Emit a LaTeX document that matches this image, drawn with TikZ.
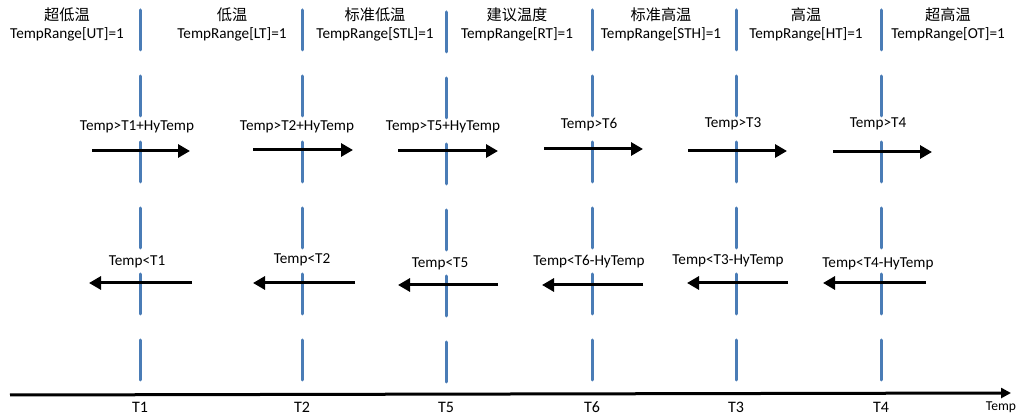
\documentclass[tikz,border=0pt]{standalone}
\usepackage{fontspec}
\setmainfont{Carlito}
\newfontfamily\cjk{Noto Sans CJK SC}
\usetikzlibrary{arrows.meta}
\definecolor{threshblue}{RGB}{74,124,182}
\tikzset{
  thresh/.style={threshblue, line width=1.5pt, line cap=round, dash pattern=on 20pt off 13pt},
  flow/.style={-{Triangle[length=6pt,width=6.5pt]}, line width=1.5pt},
  axisline/.style={-{Triangle[length=5pt,width=5pt]}, line width=1.5pt},
  lbl/.style={inner sep=0pt, font=\fontsize{7.6}{9}\selectfont},
  tick/.style={inner sep=0pt, font=\fontsize{8}{10}\selectfont},
  region/.style={lbl, align=center},
}

\begin{document}
\begin{tikzpicture}[x=0.5pt, y=-0.5pt]
\useasboundingbox (0,0) rectangle (1022,416);

%threshold lines
\coordinate (T1top) at (140,10);  \coordinate (T1bot) at (140,385);
\coordinate (T2top) at (302,10);  \coordinate (T2bot) at (302,385);
\coordinate (T5top) at (446,12);  \coordinate (T5bot) at (446,388);
\coordinate (T6top) at (592,10);  \coordinate (T6bot) at (592,385);
\coordinate (T3top) at (736,10);  \coordinate (T3bot) at (736,385);
\coordinate (T4top) at (881,10);  \coordinate (T4bot) at (881,385);
\draw[thresh] (T1top) -- (T1bot);
\draw[thresh] (T2top) -- (T2bot);
\draw[thresh] (T5top) -- (T5bot);
\draw[thresh] (T6top) -- (T6bot);
\draw[thresh] (T3top) -- (T3bot);
\draw[thresh] (T4top) -- (T4bot);

%ranges
\node[region] (rangeUT)  at (67,24)  {{\cjk 超低温}\\TempRange[UT]=1};
\node[region] (rangeLT)  at (232,24) {{\cjk 低温}\\TempRange[LT]=1};
\node[region] (rangeSTL) at (375,24) {{\cjk 标准低温}\\TempRange[STL]=1};
\node[region] (rangeRT)  at (517,24) {{\cjk 建议温度}\\TempRange[RT]=1};
\node[region] (rangeSTH) at (661,24) {{\cjk 标准高温}\\TempRange[STH]=1};
\node[region] (rangeHT)  at (806,24) {{\cjk 高温}\\TempRange[HT]=1};
\node[region] (rangeOT)  at (948,24) {{\cjk 超高温}\\TempRange[OT]=1};

%rising
\node[lbl] (upT1) at (137,127) {Temp>T1+HyTemp};
\node[lbl] (upT2) at (297,127) {Temp>T2+HyTemp};
\node[lbl] (upT5) at (443,127) {Temp>T5+HyTemp};
\node[lbl] (upT6) at (589,125) {Temp>T6};
\node[lbl] (upT3) at (733,124) {Temp>T3};
\node[lbl] (upT4) at (878,124) {Temp>T4};
\coordinate (upT1a) at (92,151);  \coordinate (upT1b) at (190,151);
\coordinate (upT2a) at (253,150); \coordinate (upT2b) at (353,150);
\coordinate (upT5a) at (398,151); \coordinate (upT5b) at (498,151);
\coordinate (upT6a) at (544,149); \coordinate (upT6b) at (643,149);
\coordinate (upT3a) at (688,151); \coordinate (upT3b) at (787,151);
\coordinate (upT4a) at (833,152); \coordinate (upT4b) at (932,152);
\draw[flow] (upT1a) -- (upT1b);
\draw[flow] (upT2a) -- (upT2b);
\draw[flow] (upT5a) -- (upT5b);
\draw[flow] (upT6a) -- (upT6b);
\draw[flow] (upT3a) -- (upT3b);
\draw[flow] (upT4a) -- (upT4b);

%falling
\node[lbl] (dnT1) at (137,262) {Temp<T1};
\node[lbl] (dnT2) at (302,260) {Temp<T2};
\node[lbl] (dnT5) at (440,264) {Temp<T5};
\node[lbl] (dnT6) at (589,262) {Temp<T6-HyTemp};
\node[lbl] (dnT3) at (728,261) {Temp<T3-HyTemp};
\node[lbl] (dnT4) at (878,264) {Temp<T4-HyTemp};
\coordinate (dnT1a) at (192,283); \coordinate (dnT1b) at (89,283);
\coordinate (dnT2a) at (355,283); \coordinate (dnT2b) at (253,283);
\coordinate (dnT5a) at (498,285); \coordinate (dnT5b) at (398,285);
\coordinate (dnT6a) at (643,285); \coordinate (dnT6b) at (542,285);
\coordinate (dnT3a) at (788,283); \coordinate (dnT3b) at (687,283);
\coordinate (dnT4a) at (926,283); \coordinate (dnT4b) at (823,283);
\draw[flow] (dnT1a) -- (dnT1b);
\draw[flow] (dnT2a) -- (dnT2b);
\draw[flow] (dnT5a) -- (dnT5b);
\draw[flow] (dnT6a) -- (dnT6b);
\draw[flow] (dnT3a) -- (dnT3b);
\draw[flow] (dnT4a) -- (dnT4b);

%axis
\coordinate (axisstart) at (10,395);
\coordinate (axisend) at (1011,393);
\draw[axisline] (axisstart) -- (axisend);
\node[inner sep=0pt, font=\fontsize{6.8}{8}\selectfont] (axisname) at (1001,407) {Temp};
\node[tick] (T1name) at (140,407) {T1};
\node[tick] (T2name) at (302,407) {T2};
\node[tick] (T5name) at (446,407) {T5};
\node[tick] (T6name) at (592,407) {T6};
\node[tick] (T3name) at (736,407) {T3};
\node[tick] (T4name) at (881,407) {T4};
\end{tikzpicture}
\end{document}
